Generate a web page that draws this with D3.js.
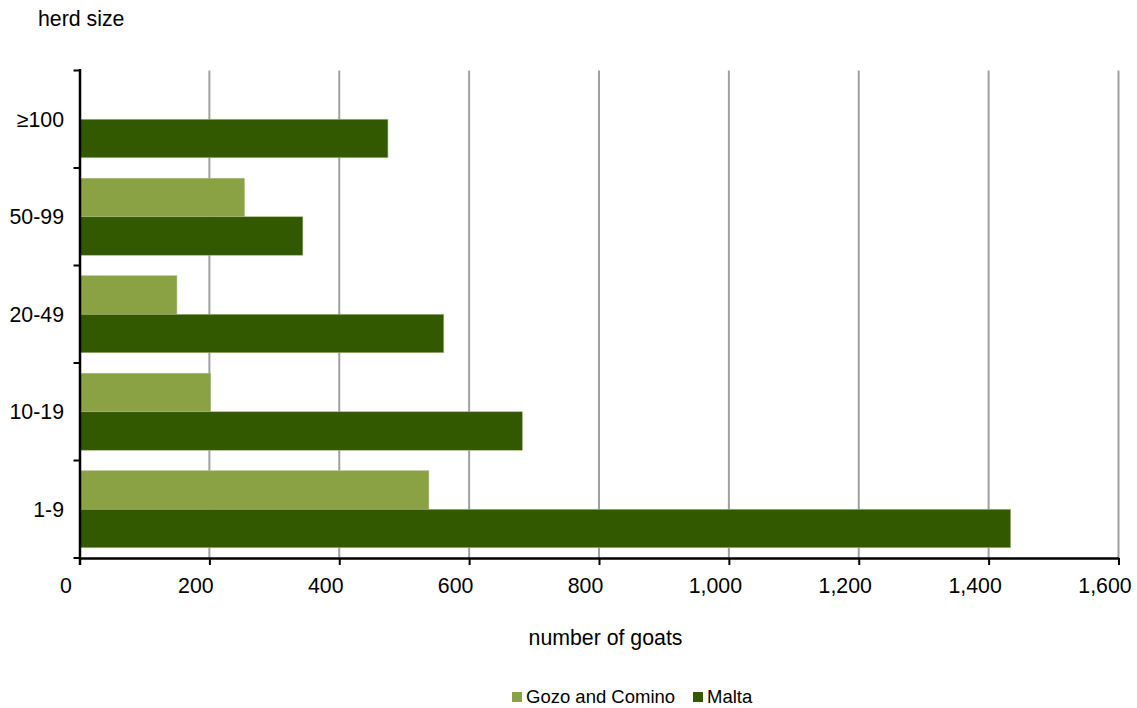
<!DOCTYPE html>
<html>
<head>
<meta charset="utf-8">
<script src="https://cdn.jsdelivr.net/npm/d3@7"></script>
<style>
  html, body { margin: 0; padding: 0; background: #fff; }
  svg { display: block; font-family: "Liberation Sans", Arial, sans-serif; }
</style>
</head>
<body>
<svg id="chart" width="1137" height="708"></svg>
<script>
const categories = ["≥100", "50-99", "20-49", "10-19", "1-9"];
const seriesNames = ["Gozo and Comino", "Malta"];
const gozoValues = [null, 254, 150, 202, 538];
const maltaValues = [475, 344, 561, 682, 1434];
const xTicks = [0, 200, 400, 600, 800, 1000, 1200, 1400, 1600];
const colors = ["#8BA244", "#335900"];

const svg = d3.select("#chart");
const plotLeft = 79.5, plotRight = 1118.5, plotTop = 70.5, plotBottom = 558;
const fs = 21.3;

const x = d3.scaleLinear().domain([0, 1600]).range([plotLeft, plotRight]);
const y = d3.scaleBand().domain(categories).range([plotTop, plotBottom]).paddingInner(0.21).paddingOuter(0.105);
const ySub = d3.scaleBand().domain(seriesNames).range([0, y.bandwidth()]);

const fmt = d3.format(",");

// gridlines
svg.append("g").selectAll("line").data(xTicks.filter(d => d > 0)).join("line")
  .attr("x1", d => x(d)).attr("x2", d => x(d))
  .attr("y1", plotTop).attr("y2", plotBottom)
  .attr("stroke", "#a0a0a0").attr("stroke-width", 2);

// bars
const rows = [];
categories.forEach((c, i) => {
  if (gozoValues[i] != null) rows.push({cat: c, s: seriesNames[0], v: gozoValues[i], col: colors[0]});
  if (maltaValues[i] != null) rows.push({cat: c, s: seriesNames[1], v: maltaValues[i], col: colors[1]});
});
svg.append("g").selectAll("rect").data(rows).join("rect")
  .attr("x", x(0))
  .attr("y", d => y(d.cat) + ySub(d.s))
  .attr("width", d => x(d.v) - x(0))
  .attr("height", ySub.bandwidth())
  .attr("fill", d => d.col)
  .attr("stroke", "#a8bd86").attr("stroke-width", 0.6);

// x axis
const xAxis = svg.append("g").attr("transform", `translate(0,${plotBottom})`)
  .call(d3.axisBottom(x).tickValues(xTicks).tickFormat(fmt).tickSize(7).tickSizeOuter(0));
xAxis.select(".domain").attr("stroke", "#000").attr("stroke-width", 2.5);
xAxis.selectAll(".tick line").attr("stroke", "#000").attr("stroke-width", 2);
xAxis.selectAll(".tick text").attr("font-size", fs).attr("fill", "#000")
  .attr("font-family", "Liberation Sans, Arial, sans-serif")
  .attr("dx", -14).attr("y", 35).attr("dy", 0);

// y axis (ticks at category boundaries)
const step = y.step();
const bounds = categories.map(c => y(c) - y.paddingInner() * step / 2);
bounds.push(plotBottom);
const yAxis = svg.append("g");
yAxis.append("line").attr("x1", plotLeft + 0.5).attr("x2", plotLeft + 0.5)
  .attr("y1", bounds[0] - 1.5).attr("y2", plotBottom + 7)
  .attr("stroke", "#000").attr("stroke-width", 2.5);
yAxis.selectAll("line.t").data(bounds).join("line").attr("class", "t")
  .attr("x1", plotLeft - 6).attr("x2", plotLeft)
  .attr("y1", d => d).attr("y2", d => d)
  .attr("stroke", "#000").attr("stroke-width", 2);
yAxis.selectAll("text").data(categories).join("text")
  .attr("x", 64).attr("y", d => y(d) + y.bandwidth() / 2)
  .attr("dy", "0.36em").attr("text-anchor", "end")
  .attr("font-size", fs).attr("fill", "#000").text(d => d);

// titles
svg.append("text").attr("x", 38).attr("y", 26).attr("font-size", fs).attr("fill", "#000").text("herd size");
svg.append("text").attr("x", 605.5).attr("y", 645).attr("text-anchor", "middle")
  .attr("font-size", fs).attr("fill", "#000").text("number of goats");

// legend
const legend = svg.append("g");
const legendX = [512, 693];
seriesNames.forEach((s, i) => {
  legend.append("rect").attr("x", legendX[i]).attr("y", 692).attr("width", 10).attr("height", 10).attr("fill", colors[i]);
  legend.append("text").attr("x", legendX[i] + 14).attr("y", 703).attr("font-size", 18.5).attr("fill", "#000").text(s);
});
</script>
</body>
</html>
